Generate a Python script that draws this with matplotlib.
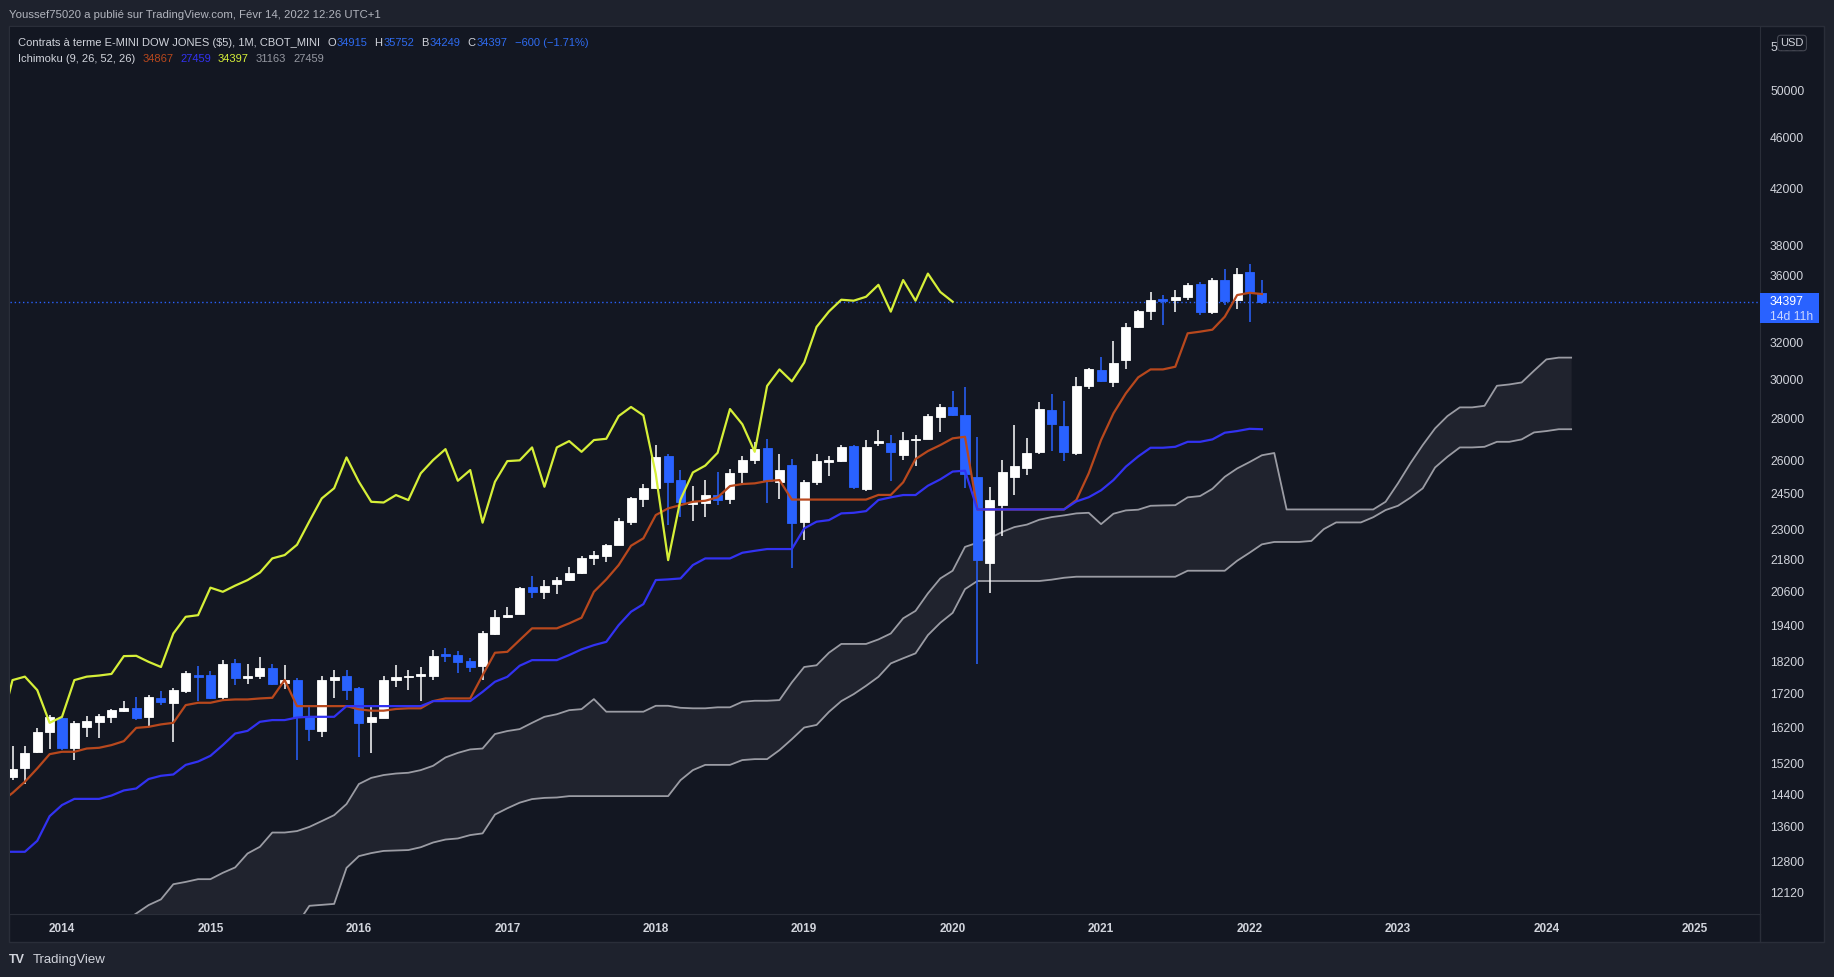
import numpy as np
import pandas as pd
import matplotlib
matplotlib.use('agg')
import matplotlib.pyplot as plt
from matplotlib.patches import Rectangle
from matplotlib.lines import Line2D
from matplotlib.ticker import NullLocator

plt.rcParams['font.family'] = ['Liberation Sans', 'DejaVu Sans']

# monthly candles Sep 2013 .. Feb 2022 (E-mini Dow)
open_ = [14860, 15095, 15530, 16090, 16480, 15640, 16230, 16365, 16520, 16700, 16775, 16520,
         17085, 16935, 17290, 17795, 17795, 17115, 18155, 17680, 17770, 18020, 17545, 17620,
         16520, 16117, 17615, 17770, 17390, 16375, 16490, 17615, 17735, 17745, 17770, 18445,
         18423, 18230, 18078, 19110, 19713, 19806, 20790, 20604, 20890, 21034, 21300, 21856,
         21960, 22360, 23320, 24258, 24740, 26175, 25100, 24070, 24110, 24444, 24270, 25470,
         26003, 26545, 25025, 25800, 23318, 25025, 25925, 25955, 26650, 24705, 26810, 26810,
         26230, 26950, 26990, 28050, 28560, 28180, 25235, 21690, 24016, 25240, 25650, 26386,
         28405, 27610, 26340, 29640, 30485, 29840, 31050, 32880, 33840, 34555, 34475, 34700,
         35470, 33800, 35760, 34500, 36280, 34915]
high = [15690, 15690, 16185, 16570, 16520, 16385, 16540, 16600, 16740, 16980, 17115, 17165,
        17290, 17390, 17905, 18065, 17920, 18260, 18295, 18125, 18370, 18150, 18095, 17680,
        16845, 17770, 17940, 17940, 17420, 16836, 17740, 18095, 17940, 18040, 18587, 18640,
        18550, 18315, 19220, 19948, 20060, 20790, 21180, 21034, 21155, 21510, 21930, 22140,
        22420, 23480, 24380, 24920, 26700, 26300, 25547, 24835, 25100, 25440, 25590, 26190,
        26830, 26985, 26280, 26050, 25100, 26280, 26190, 26700, 26700, 26938, 27420, 27190,
        27340, 27200, 28200, 28735, 29375, 29600, 27085, 24805, 25990, 27660, 27040, 28790,
        29225, 28860, 30130, 30620, 31180, 32090, 33140, 33900, 34980, 34800, 35114, 35580,
        35600, 35850, 36440, 36530, 36800, 35752]
low = [14770, 14670, 15485, 15620, 15580, 15300, 15940, 15900, 16345, 16650, 16425, 16230,
       16865, 15805, 17240, 16990, 17050, 16995, 17465, 17495, 17660, 17470, 17350, 15303,
       15825, 15940, 17085, 17030, 15394, 15485, 16480, 17420, 17318, 16995, 17627, 18205,
       17855, 17890, 17627, 19080, 19660, 19806, 20385, 20350, 20510, 21010, 21280, 21620,
       21700, 22360, 23200, 23930, 24700, 23200, 23530, 23360, 23510, 24016, 24060, 24980,
       25805, 24110, 24270, 21500, 22575, 24880, 25275, 25925, 24700, 24630, 26670, 25070,
       26003, 25750, 26980, 27330, 28110, 24740, 18130, 20545, 22750, 24444, 25320, 26280,
       26420, 25975, 26250, 29500, 29840, 29600, 30560, 32850, 33280, 33000, 33760, 34499,
       33600, 33650, 34200, 33970, 33190, 34249]
close = [15060, 15485, 16075, 16520, 15640, 16345, 16395, 16540, 16717, 16780, 16490, 17115,
         16965, 17318, 17855, 17735, 17090, 18125, 17680, 17770, 18020, 17520, 17627, 16520,
         16165, 17627, 17735, 17318, 16345, 16520, 17627, 17735, 17770, 17820, 18390, 18400,
         18205, 18040, 19140, 19713, 19770, 20754, 20604, 20830, 21034, 21315, 21856, 21985,
         22390, 23340, 24300, 24740, 26125, 25025, 24155, 24125, 24444, 24228, 25400, 26003,
         26510, 25070, 25547, 23280, 25025, 25955, 25990, 26590, 24805, 26590, 26890, 26385,
         26938, 27000, 28105, 28560, 28140, 25375, 21790, 24250, 25440, 25750, 26340, 28455,
         27700, 26386, 29640, 30520, 29880, 30890, 32900, 33810, 34520, 34460, 34700, 35440,
         33800, 35740, 34460, 36150, 34997, 34397]

# Ichimoku (9, 26, 52, 26) lines, Aug 2013 .. Feb 2022
tenkan = [14200, 14440, 14730, 15080, 15465, 15530, 15530, 15620, 15640, 15715, 15825, 16200,
          16230, 16300, 16345, 16865, 16935, 16935, 17015, 17035, 17035, 17065, 17085, 17630,
          16835, 16835, 16835, 16835, 16835, 16740, 16700, 16700, 16750, 16770, 16770, 16985,
          17065, 17065, 17065, 17780, 18500, 18530, 18920, 19315, 19315, 19315, 19485, 19680,
          20605, 21060, 21600, 22350, 22645, 23595, 23875, 24015, 24155, 24200, 24345, 24835,
          24925, 24955, 25055, 25100, 24250, 24250, 24250, 24250, 24250, 24250, 24250, 24450,
          24450, 25000, 26050, 26420, 26700, 27020, 27095, 23830, 23830, 23830, 23830, 23830,
          23830, 23830, 23830, 24230, 25400, 26940, 28240, 29255, 30095, 30520, 30520, 30665,
          32530, 32625, 32740, 33500, 34805, 34945, 34867]
kijun = [13015, 13015, 13015, 13270, 13860, 14135, 14290, 14290, 14290, 14375, 14505, 14555,
         14800, 14885, 14920, 15175, 15265, 15420, 15715, 16040, 16115, 16375, 16425, 16425,
         16500, 16520, 16520, 16520, 16835, 16835, 16835, 16835, 16835, 16835, 16835, 16985,
         16985, 16985, 16985, 17265, 17575, 17730, 18080, 18260, 18260, 18260, 18425, 18610,
         18750, 18860, 19425, 19890, 20160, 21035, 21060, 21095, 21600, 21855, 21855, 21855,
         22075, 22150, 22220, 22220, 22220, 23045, 23320, 23385, 23665, 23690, 23760, 24230,
         24345, 24445, 24445, 24850, 25130, 25480, 25520, 23830, 23830, 23830, 23830, 23830,
         23830, 23830, 23830, 24170, 24350, 24650, 25100, 25700, 26170, 26575, 26575, 26620,
         26855, 26855, 26970, 27290, 27370, 27480, 27459]

# cloud, Jun 2014 .. Mar 2024 (already displaced forward)
lead1 = [11500, 11670, 11845, 11965, 12290, 12340, 12400, 12400, 12540, 12660, 12975, 13130,
         13465, 13465, 13500, 13600, 13740, 13885, 14160, 14670, 14830, 14905, 14945, 14965,
         15035, 15150, 15375, 15500, 15595, 15620, 16025, 16110, 16165, 16345, 16520, 16595,
         16715, 16745, 17045, 16670, 16670, 16670, 16670, 16845, 16845, 16785, 16770, 16770,
         16800, 16800, 16965, 16995, 16995, 17015, 17555, 18040, 18095, 18500, 18790, 18790,
         18790, 18940, 19140, 19660, 19920, 20545, 21095, 21385, 22305, 22470, 22650, 22900,
         23100, 23200, 23400, 23510, 23580, 23665, 23690, 23220, 23650, 23790, 23820, 23985,
         24000, 24010, 24345, 24400, 24715, 25245, 25620, 25910, 26225, 26330, 23830, 23830,
         23830, 23830, 23830, 23830, 23830, 23830, 24155, 24955, 25850, 26700, 27500, 28105,
         28540, 28540, 28620, 29650, 29720, 29825, 30450, 31065, 31163, 31163]
lead2 = [11000, 11000, 11000, 11000, 11000, 11000, 11000, 11000, 11000, 11000, 11000, 11000,
         11000, 11000, 11450, 11830, 11850, 11870, 12650, 12915, 12985, 13035, 13045, 13055,
         13120, 13230, 13300, 13325, 13405, 13445, 13900, 14055, 14195, 14285, 14315, 14325,
         14360, 14360, 14360, 14360, 14360, 14360, 14360, 14360, 14360, 14770, 15035, 15175,
         15175, 15175, 15305, 15330, 15330, 15575, 15880, 16210, 16285, 16665, 16985, 17195,
         17450, 17730, 18155, 18320, 18480, 19085, 19505, 19850, 20700, 21000, 21000, 21000,
         21000, 21000, 21000, 21050, 21120, 21160, 21160, 21160, 21160, 21160, 21160, 21160,
         21160, 21160, 21385, 21385, 21385, 21385, 21765, 22075, 22405, 22500, 22500, 22500,
         22540, 23015, 23290, 23290, 23290, 23505, 23805, 23985, 24330, 24735, 25665, 26155,
         26590, 26590, 26620, 26855, 26855, 26970, 27305, 27370, 27459, 27459]

price_ticks = [54000, 50000, 46000, 42000, 38000, 36000, 32000, 30000, 28000, 26000, 24500,
               23000, 21800, 20600, 19400, 18200, 17200, 16200, 15200, 14400, 13600, 12800, 12120]
years = list(range(2014, 2026))


def month_index(periods):
    return np.array((periods.year - 2014) * 12 + periods.month - 1)


cand_m = month_index(pd.period_range('2013-09', '2022-02', freq='M'))
line_m = month_index(pd.period_range('2013-08', '2022-02', freq='M'))
cloud_m = month_index(pd.period_range('2014-06', '2024-03', freq='M'))
shift = 26 - 1  # tradingview plots chikou/senkou with displacement-1

BG = '#131722'
OUT = '#1e222d'
BORDER = '#2a2e39'
TXT = '#d1d4dc'
UP = '#ffffff'
DOWN = '#2962ff'
C_TEN = '#b8481d'
C_KIJ = '#3232f2'
C_CHI = '#d6ef38'
C_CLD = '#9b9ca4'

W, H = 1834, 977
fig = plt.figure(figsize=(W / 100, H / 100), dpi=100)
fig.patch.set_facecolor(OUT)


def fx(x):
    return x / W


def fy(y):
    return 1 - y / H


fig.patches.append(Rectangle((fx(9), fy(942)), 1815 / W, 916 / H, transform=fig.transFigure,
                             facecolor=BG, edgecolor=BORDER, lw=1, zorder=-2))

ax = fig.add_axes([fx(10), fy(914), 1750 / W, 887 / H])
ax.set_facecolor(BG)
ax.set_yscale('log')
mpx = 12.37  # pixels per month
ax.set_xlim((10 - 62) / mpx, (1760 - 62) / mpx)
ax.set_ylim(11660, 55890)

# cloud
ax.fill_between(cloud_m, lead1, lead2, color='#20232e', lw=0, zorder=1)
ax.plot(cloud_m, lead1, color=C_CLD, lw=1.3, zorder=2)
ax.plot(cloud_m, lead2, color=C_CLD, lw=1.3, zorder=2)

# last price line
ax.axhline(close[-1], color=DOWN, ls=(0, (1, 2)), lw=1, zorder=2)

# candles
o = np.array(open_)
c = np.array(close)
cols = [UP if cc >= oo else DOWN for oo, cc in zip(o, c)]
ax.vlines(cand_m, low, high, colors=cols, lw=1.1, zorder=3)
ax.bar(cand_m, np.abs(c - o), bottom=np.minimum(o, c), width=0.73, color=cols,
       edgecolor=cols, lw=0.6, zorder=4)

# ichimoku lines
ax.plot(line_m, tenkan, color=C_TEN, lw=1.6, zorder=5)
ax.plot(line_m, kijun, color=C_KIJ, lw=1.6, zorder=5)
ax.plot(cand_m - shift, close, color=C_CHI, lw=1.6, zorder=5)

ax.set_yticks(price_ticks, labels=[str(t) for t in price_ticks])
ax.yaxis.set_minor_locator(NullLocator())
ax.set_xticks([(y - 2014) * 12 for y in years], labels=[str(y) for y in years])
ax.yaxis.tick_right()
ax.tick_params(axis='y', length=0, labelcolor=TXT, labelsize=8.7, pad=7.2)
ax.tick_params(axis='x', length=0, labelcolor=TXT, labelsize=8.5, pad=6.5)
for lbl in ax.get_xticklabels():
    lbl.set_fontweight('bold')
for s in ['top', 'left']:
    ax.spines[s].set_visible(False)
for s in ['right', 'bottom']:
    ax.spines[s].set_color(BORDER)

fig.lines.append(Line2D([fx(1760), fx(1760)], [fy(914), fy(942)], transform=fig.transFigure,
                        color=BORDER, lw=1, zorder=3))

# price label on the axis
py = H - ax.transData.transform((0, close[-1]))[1]
fig.patches.append(Rectangle((fx(1760), fy(py + 21)), 59 / W, 30 / H, transform=fig.transFigure,
                             facecolor=DOWN, edgecolor='none', zorder=5))
fig.text(fx(1770), fy(py), str(close[-1]), color='white', fontsize=8.7, va='center', zorder=6)
fig.text(fx(1770), fy(py + 15), '14d 11h', color='#c9d6ff', fontsize=8.7, va='center', zorder=6)

# the USD button sits on top of the 54000 label, as in TradingView
fig.text(fx(1792), fy(43), 'USD', color=TXT, fontsize=8, ha='center', va='center', zorder=6,
         bbox=dict(boxstyle='round,pad=0.25,rounding_size=0.3', fc=BG, ec='#434651', lw=0.8))

# header + legend
fig.text(fx(9), fy(15), 'Youssef75020 a publié sur TradingView.com, Févr 14, 2022 12:26 UTC+1',
         color='#b2b5be', fontsize=8.2, va='center')

renderer = fig.canvas.get_renderer()


def row(x, y, parts, size=8.0):
    for s, col, gap in parts:
        t = fig.text(fx(x), fy(y), s, color=col, fontsize=size, va='center', ha='left')
        x = t.get_window_extent(renderer).x1 + gap


chg = close[-1] - close[-2]
pct = chg / close[-2] * 100
LB = '#2e6bf0'
row(18, 43, [('Contrats à terme E-MINI DOW JONES ($5), 1M, CBOT_MINI', TXT, 7),
             ('O', TXT, 1), (str(open_[-1]), LB, 7),
             ('H', TXT, 1), (str(high[-1]), LB, 7),
             ('B', TXT, 1), (str(low[-1]), LB, 7),
             ('C', TXT, 1), (str(close[-1]), LB, 7),
             ('{} ({:.2f}%)'.format(chg, pct).replace('-', '\u2212'), LB, 0)])
row(18, 59, [('Ichimoku (9, 26, 52, 26)', TXT, 7),
             (str(tenkan[-1]), C_TEN, 7), (str(kijun[-1]), C_KIJ, 7),
             (str(close[-1]), C_CHI, 7), (str(lead1[-1]), '#9598a1', 7),
             (str(lead2[-1]), '#9598a1', 0)])

# footer
fig.text(fx(9), fy(960), 'TV', color=TXT, fontsize=9, fontweight='bold', va='center')
fig.text(fx(33), fy(960), 'TradingView', color=TXT, fontsize=9.5, va='center')

fig.savefig('out.png', dpi=100, facecolor=OUT)
